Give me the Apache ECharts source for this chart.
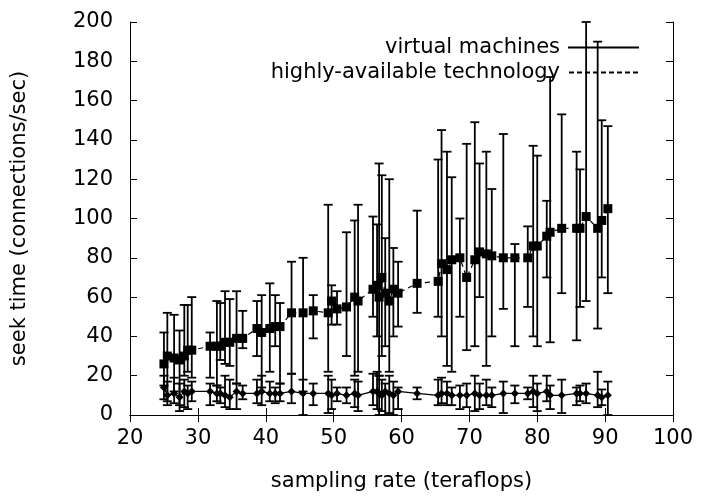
<!DOCTYPE html>
<html>
<head>
<meta charset="utf-8">
<title>seek time vs sampling rate</title>
<script src="https://cdn.jsdelivr.net/npm/echarts@6/dist/echarts.min.js"></script>
<style>
  html, body { margin: 0; padding: 0; background: #fff; }
  #chart { width: 715px; height: 497px; }
</style>
</head>
<body>
<div id="chart"></div>
<script>
  // sampling rate (teraflops), shared by both series
  var rate = [25.0, 25.5, 26.5, 27.3, 28.0, 28.5, 29.1, 31.8, 32.8, 33.3, 34.0, 34.7, 35.7, 36.6,
    38.7, 39.4, 40.6, 41.4, 42.1, 43.8, 45.5, 47.0, 49.2, 49.7, 50.5, 51.9, 53.1, 53.6, 55.8,
    56.4, 56.7, 57.1, 57.6, 58.2, 58.8, 59.5, 62.3, 65.4, 65.9, 66.7, 67.4, 68.6, 69.6, 70.8,
    71.5, 72.5, 73.3, 75.0, 76.7, 78.6, 79.4, 80.0, 81.4, 81.9, 83.6, 85.8, 86.3, 87.2, 88.9,
    89.5, 90.4]

  // highly-available technology: value, error low, error high
  var haSeek = [26, 30, 29, 28, 30, 33, 33, 35, 35, 35, 37, 37, 39, 39, 44, 42, 44, 45, 45, 52,
    52, 53, 52, 58, 54, 55, 60, 58, 64, 66, 60, 70, 62, 58, 64, 62, 67, 68, 77, 74, 79, 80, 70,
    79, 83, 82, 81, 80, 80, 80, 86, 86, 91, 93, 95, 95, 95, 101, 95, 99, 105]
  var haLow = [15, 7, 12, 5, 20, 22, 19, 19, 15, 28, 26, 25, 16, 34, 30, 14, 22, 35, 16, 21,
    12, 39, 22, 46, 46, 30, 20, 22, 50, 40, 20, 30, 35, 22, 40, 45, 52, 50, 40, 25, 22, 50, 33,
    35, 60, 25, 40, 54, 35, 55, 40, 35, 70, 37, 62, 38, 55, 58, 44, 70, 62]
  var haHigh = [42, 52, 51, 43, 56, 56, 60, 42, 58, 57, 63, 59, 63, 53, 58, 61, 67, 61, 57, 78,
    80, 61, 107, 66, 63, 93, 99, 107, 101, 97, 128, 122, 90, 120, 85, 78, 104, 130, 145, 134,
    121, 100, 138, 149, 128, 134, 115, 143, 87, 96, 137, 132, 109, 172, 153, 134, 125, 200, 190,
    150, 147]

  // virtual machines: value, error low, error high
  var vmSeek = [14, 10, 11, 9, 12, 11, 12, 12, 11, 11, 10, 9, 12, 11, 11, 12, 11, 11, 11, 12,
    11, 11, 11, 10, 11, 10, 11, 10, 12, 12, 11, 10, 12, 11, 10, 12, 11, 10, 11, 11, 10, 10, 10,
    11, 10, 10, 10, 11, 11, 11, 12, 11, 12, 10, 10, 11, 11, 11, 10, 9, 10]
  var vmLow = [8, 5, 6, 2, 4, 3, 7, 5, 7, 6, 4, 3, 3, 8, 6, 5, 7, 6, 7, 6, 0, 5, 1, 3, 7, 6, 4,
    2, 5, 3, 0, 2, 0, 1, 0, 3, 8, 5, 6, 5, 5, 3, 4, 2, 3, 5, 4, 1, 6, 8, 4, 2, 7, 3, 1, 5, 7, 6,
    4, 5, 0]
  var vmHigh = [20, 17, 19, 16, 18, 15, 17, 16, 15, 14, 20, 18, 16, 15, 18, 20, 17, 14, 16, 21,
    18, 16, 20, 18, 14, 14, 18, 17, 21, 22, 20, 18, 16, 20, 17, 14, 14, 18, 19, 17, 14, 15, 16,
    20, 16, 18, 14, 17, 15, 14, 20, 16, 20, 15, 18, 14, 15, 16, 22, 13, 17]

  var xTicks = { min: 20, max: 100, interval: 10 }
  var yTicks = { min: 0, max: 200, interval: 20 }

  var font = 'DejaVu Sans'

  function points (ys) {
    return rate.map(function (x, i) { return [x, ys[i]] })
  }
  function bars (lo, hi) {
    return rate.map(function (x, i) { return [x, lo[i], hi[i]] })
  }

  // gnuplot style y error bar: vertical stroke with small caps
  function renderBar (params, api) {
    var x = api.value(0)
    var lo = api.coord([x, api.value(1)])
    var hi = api.coord([x, api.value(2)])
    var w = 4.5
    var st = { stroke: '#000', lineWidth: 1.8 }
    return {
      type: 'group',
      children: [
        { type: 'line', shape: { x1: lo[0], y1: lo[1], x2: hi[0], y2: hi[1] }, style: st },
        { type: 'line', shape: { x1: lo[0] - w, y1: lo[1], x2: lo[0] + w, y2: lo[1] }, style: st },
        { type: 'line', shape: { x1: hi[0] - w, y1: hi[1], x2: hi[0] + w, y2: hi[1] }, style: st }
      ]
    }
  }

  // legend samples
  var solidIcon = 'path://M0,0h71v2h-71z'
  var dashIcon = 'path://'
  for (var d = 0; d < 71; d += 8) {
    dashIcon += 'M' + d + ',0h' + Math.min(5, 71 - d) + 'v2h-' + Math.min(5, 71 - d) + 'z'
  }

  var axisCommon = {
    axisLine: { show: true, lineStyle: { color: '#000', width: 1 } },
    axisTick: { show: true, inside: true, length: 7, lineStyle: { color: '#000', width: 1 } },
    splitLine: { show: false }
  }

  var option = {
    animation: false,
    backgroundColor: '#fff',
    grid: { left: 130, top: 22, right: 42, bottom: 80 },
    legend: {
      orient: 'vertical',
      right: 71,
      top: 32,
      align: 'right',
      itemWidth: 71,
      itemHeight: 2,
      itemGap: 4,
      selectedMode: false,
      textStyle: { fontFamily: font, fontSize: 21, color: '#000', padding: [0, 3, 0, 0] },
      data: [
        { name: 'virtual machines', icon: solidIcon },
        { name: 'highly-available technology', icon: dashIcon }
      ]
    },
    xAxis: [
      Object.assign({
        type: 'value',
        min: xTicks.min, max: xTicks.max, interval: xTicks.interval,
        name: 'sampling rate (teraflops)',
        nameLocation: 'middle',
        nameGap: 56,
        nameTextStyle: { fontFamily: font, fontSize: 21, color: '#000' },
        axisLabel: { fontFamily: font, fontSize: 21, color: '#000', margin: 13 }
      }, axisCommon),
      Object.assign({
        type: 'value', position: 'top',
        min: xTicks.min, max: xTicks.max, interval: xTicks.interval,
        axisLabel: { show: false }
      }, axisCommon)
    ],
    yAxis: [
      Object.assign({
        type: 'value',
        min: yTicks.min, max: yTicks.max, interval: yTicks.interval,
        name: 'seek time (connections/sec)',
        nameLocation: 'middle',
        nameGap: 100,
        nameTextStyle: { fontFamily: font, fontSize: 21, color: '#000' },
        axisLabel: { fontFamily: font, fontSize: 21, color: '#000', margin: 17 }
      }, axisCommon),
      Object.assign({
        type: 'value', position: 'right',
        min: yTicks.min, max: yTicks.max, interval: yTicks.interval,
        axisLabel: { show: false }
      }, axisCommon)
    ],
    series: [
      {
        name: 'vm bars',
        type: 'custom',
        renderItem: renderBar,
        encode: { x: 0, y: [1, 2] },
        data: bars(vmLow, vmHigh),
        z: 2
      },
      {
        name: 'ha bars',
        type: 'custom',
        renderItem: renderBar,
        encode: { x: 0, y: [1, 2] },
        data: bars(haLow, haHigh),
        z: 2
      },
      {
        name: 'virtual machines',
        type: 'line',
        data: points(vmSeek),
        symbol: 'diamond',
        symbolSize: 8,
        itemStyle: { color: '#000' },
        lineStyle: { color: '#000', width: 1.2 },
        z: 3
      },
      {
        name: 'highly-available technology',
        type: 'line',
        data: points(haSeek),
        symbol: 'rect',
        symbolSize: 9,
        itemStyle: { color: '#000' },
        lineStyle: { color: '#000', width: 1.2, type: [5, 4] },
        z: 3
      }
    ]
  }

  var chart = echarts.init(document.getElementById('chart'))
  chart.setOption(option)
  window.addEventListener('resize', function () {
    chart.resize()
  })
</script>
</body>
</html>
